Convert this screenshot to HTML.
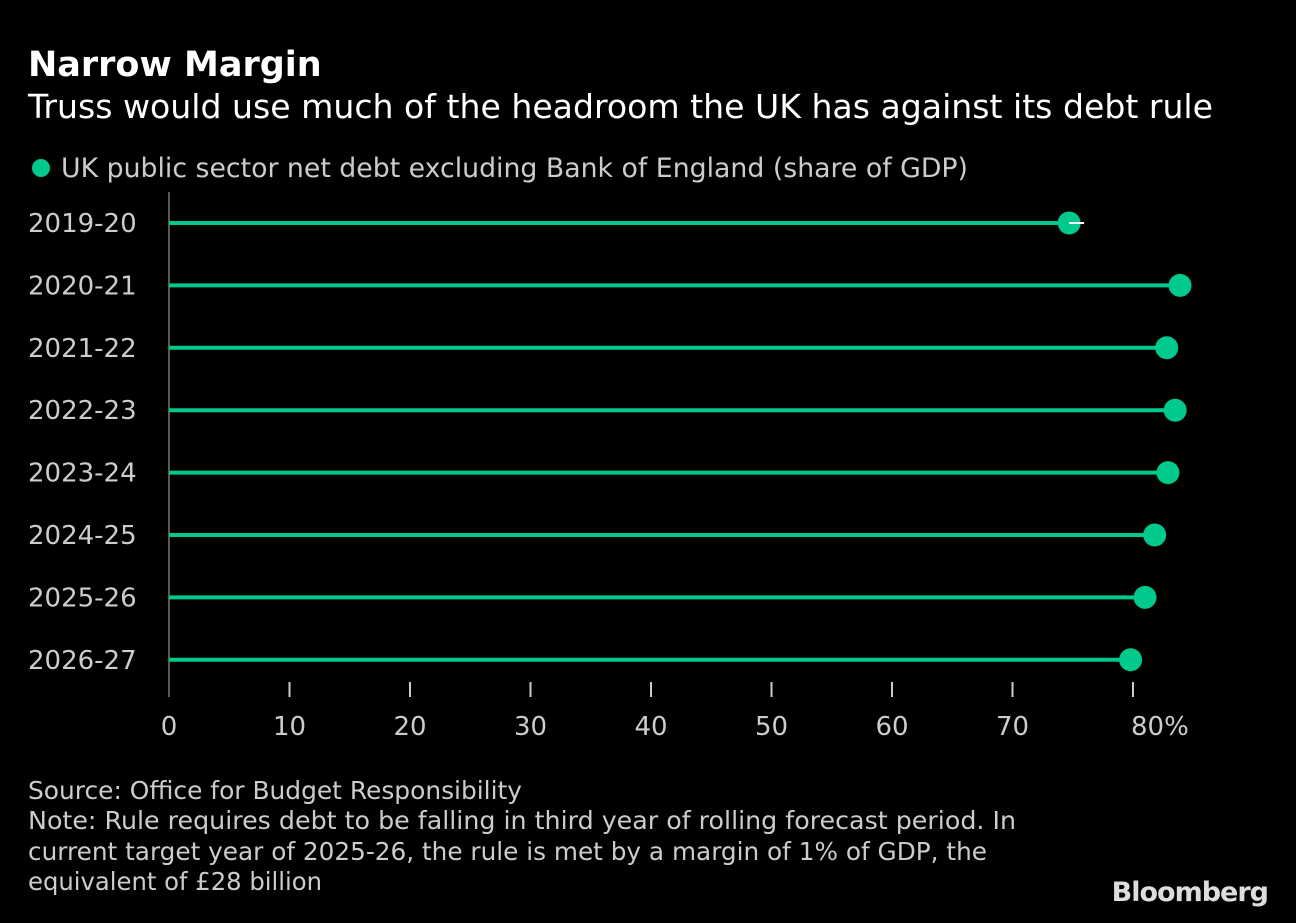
<!DOCTYPE html>
<html><head><meta charset="utf-8"><style>
body{margin:0;background:#000;width:1296px;height:918px;overflow:hidden}
svg text{font-family:"DejaVu Sans","Liberation Sans",sans-serif}
</style></head><body>
<svg width="1296" height="918" id="c">
<text x="28" y="76" fill="#fff" font-size="35" font-weight="bold" font-family="Liberation Sans">Narrow Margin</text>
<text x="28" y="118" fill="#fff" font-size="33" textLength="1185" lengthAdjust="spacingAndGlyphs">Truss would use much of the headroom the UK has against its debt rule</text>
<circle cx="41" cy="168" r="9" fill="#00c98d"/>
<text x="61" y="177" fill="#ccc" font-size="26.5" textLength="907" lengthAdjust="spacingAndGlyphs">UK public sector net debt excluding Bank of England (share of GDP)</text>
<line x1="169" y1="192" x2="169" y2="697" stroke="#777" stroke-width="1.5"/>
<g id="plot"></g>
<text x="28" y="799" fill="#ccc" font-size="25" textLength="494" lengthAdjust="spacingAndGlyphs">Source: Office for Budget Responsibility</text>
<text x="28" y="829" fill="#ccc" font-size="25" textLength="988" lengthAdjust="spacingAndGlyphs">Note: Rule requires debt to be falling in third year of rolling forecast period. In</text>
<text x="28" y="860" fill="#ccc" font-size="25" textLength="959" lengthAdjust="spacingAndGlyphs">current target year of 2025-26, the rule is met by a margin of 1% of GDP, the</text>
<text x="28" y="890" fill="#ccc" font-size="25" textLength="294" lengthAdjust="spacingAndGlyphs">equivalent of £28 billion</text>
<text x="1268" y="901" text-anchor="end" fill="#ddd" font-size="27" font-weight="bold" font-family="Liberation Sans" letter-spacing="-1">Bloomberg</text>
</svg>
<script>
const categories=["2019-20","2020-21","2021-22","2022-23","2023-24","2024-25","2025-26","2026-27"];
const values=[74.7,83.9,82.8,83.5,82.9,81.8,81.0,79.8];
const ticks=[0,10,20,30,40,50,60,70,80];
const ns="http://www.w3.org/2000/svg";
const g=document.getElementById('plot');
const x=v=>169+v*12.05;
const y=i=>223+i*62.4;
function mk(t,a){const e=document.createElementNS(ns,t);for(const k in a)e.setAttribute(k,a[k]);g.appendChild(e);return e;}
categories.forEach((c,i)=>{
  const l=mk('line',{x1:169,y1:y(i),x2:x(values[i]),y2:y(i),stroke:'#00c98d','stroke-width':4});
  
  
  const d=mk('circle',{cx:x(values[i]),cy:y(i),r:11.5,fill:'#00c98d'});
  
  
  const t=mk('text',{x:28,y:y(i)+9,fill:'#ccc','font-size':26});
  t.textContent=c;
  
  
});
const m=mk('line',{x1:x(values[0]),y1:y(0),x2:x(values[0])+15,y2:y(0),stroke:'#fff','stroke-width':2});


ticks.forEach((v,i)=>{
  if(v>0){const tk=mk('line',{x1:x(v),y1:682,x2:x(v),y2:697,stroke:'#ccc','stroke-width':2});
  
  }
  const t=mk('text',{x:x(v)+(i==ticks.length-1?-2:0),y:735,fill:'#ccc','font-size':26,'text-anchor':i==ticks.length-1?'start':'middle'});
  t.textContent=v+(i==ticks.length-1?'%':'');
  
  
});
</script>
</body></html>
